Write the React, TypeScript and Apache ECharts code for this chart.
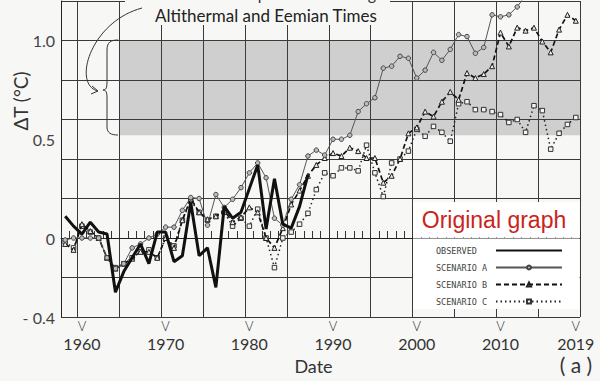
import React, { useEffect, useRef } from "react";
import * as echarts from "echarts";

// ---- data (annual means) ----
const observedStart = 1958;
const observed = [
  0.11, 0.06, 0.02, 0.08, 0.03, 0.02, -0.275, -0.17, -0.1, -0.03,
  -0.13, 0.03, 0.03, -0.12, -0.09, 0.18, -0.09, -0.05, -0.25, 0.16,
  0.1, 0.13, 0.25, 0.37, 0.045, 0.3, 0.07, 0.05, 0.16, 0.32,
];

const scenarioAStart = 1958;
const scenarioA = [
  -0.01, 0.0, 0.0, 0.0, 0.0, -0.1, -0.155, -0.13, -0.05, -0.03,
  0.0, 0.02, 0.055, 0.055, 0.14, 0.205, 0.2, 0.065, 0.22, 0.155,
  0.196, 0.255, 0.33, 0.38, 0.305, 0.1, 0.065, 0.196, 0.27, 0.415,
  0.445, 0.42, 0.5, 0.5, 0.52, 0.64, 0.68, 0.71, 0.86, 0.87,
  0.92, 0.91, 0.81, 0.85, 0.94, 0.9, 0.955, 1.03, 1.02, 0.935,
  0.965, 1.13, 1.12, 1.13, 1.17, 1.23,
];

const scenarioBStart = 1958;
const scenarioB = [
  -0.03, -0.06, 0.07, 0.035, 0.0, -0.1, -0.155, -0.13, -0.105, -0.07,
  -0.07, -0.1, 0.0, -0.05, 0.09, 0.2, 0.13, 0.095, 0.11, 0.14,
  0.08, 0.105, 0.155, 0.13, 0.0, -0.05, 0.05, 0.17, 0.24, 0.315,
  0.37, 0.405, 0.43, 0.415, 0.457, 0.44, 0.405, 0.405, 0.28, 0.315,
  0.4, 0.53, 0.56, 0.64, 0.615, 0.69, 0.74, 0.7, 0.835, 0.81,
  0.83, 0.87, 1.04, 0.97, 1.065, 1.05, 1.065, 0.995, 0.94, 1.055,
  1.13, 1.1,
];

const scenarioCStart = 1958;
const scenarioC = [
  -0.02, -0.05, 0.06, 0.03, 0.0, -0.1, -0.15, -0.13, -0.1, -0.07,
  -0.06, -0.1, 0.0, -0.04, 0.09, 0.19, 0.13, 0.09, 0.11, 0.13,
  0.06, 0.1, 0.06, 0.146, 0.0, -0.15, 0.0, 0.03, 0.07, 0.125,
  0.245, 0.33, 0.315, 0.355, 0.355, 0.34, 0.47, 0.33, 0.21, 0.38,
  0.4, 0.44, 0.55, 0.515, 0.565, 0.535, 0.49, 0.68, 0.69, 0.65,
  0.65, 0.64, 0.625, 0.585, 0.6, 0.535, 0.67, 0.645, 0.45, 0.53,
  0.575, 0.61,
];

const legendNames = ["OBSERVED", "SCENARIO A", "SCENARIO B", "SCENARIO C"];
const xTickYears = [1960, 1970, 1980, 1990, 2000, 2010, 2019];
const gridYears = [1960, 1965, 1970, 1975, 1980, 1985, 1990, 1995, 2000, 2005, 2010, 2015, 2020];
const yLabelValues = [-0.4, 0, 0.5, 1.0];
const shadedBand = { fromYear: 1965, toYear: 2020, low: 0.52, high: 1.0 };

const xMin = 1958;
const xMax = 2020;

const toPoints = (start: number, vals: number[]) =>
  vals.map((v, i) => [start + i + 0.5, v]);

const BG = "#f7f7f6";
const INK = "#222";
const FONT = "Lato";

const braceD =
  "M118 40 C111 40 107 42 107 50 L107 82 C107 88 106 90 103 90 C106 90 107 92 107 98 L107 127 C107 133 111 135 118 135";

let braceRegistered = false;

export default function App() {
  const ref = useRef<HTMLDivElement>(null);

  useEffect(() => {
    if (!ref.current) return;
    if (!braceRegistered) {
      echarts.graphic.registerShape("brace", echarts.graphic.extendPath(braceD, {}) as any);
      braceRegistered = true;
    }
    const chart = echarts.init(ref.current, undefined, { renderer: "svg" });

    const option: any = {
      animation: false,
      backgroundColor: BG,
      grid: { left: 61, right: 20, top: 1, bottom: 64 },
      legend: {
        data: legendNames.map((n, i) =>
          i === 0 ? { name: n, itemStyle: { opacity: 0 } } : { name: n }
        ),
        orient: "vertical",
        right: 32,
        top: 241,
        align: "right",
        itemWidth: 66,
        itemHeight: 5,
        itemGap: 8,
        formatter: "{n|{name}}",
        textStyle: {
          color: "#444",
          fontFamily: "DejaVu Sans Mono",
          fontSize: 8,
          rich: {
            n: { width: 55, align: "left", fontFamily: "DejaVu Sans Mono", fontSize: 8.5, lineHeight: 8, color: "#444" },
          },
        },
      },
      xAxis: [
        {
          type: "value",
          min: xMin,
          max: xMax,
          interval: 1,
          position: "bottom",
          axisLine: { show: true, lineStyle: { color: INK, width: 1 } },
          axisTick: { show: true, inside: true, length: 7, lineStyle: { color: "#333", width: 1 } },
          splitLine: { show: false },
          axisLabel: {
            show: true,
            customValues: xTickYears.map((y) => y + 0.5),
            formatter: (v: number) => `{v|V}\n{y|${Math.floor(v)}}`,
            margin: 2,
            rich: {
              v: { fontSize: 13, lineHeight: 16, fontFamily: FONT, color: "#333", fontWeight: 300, verticalAlign: "top" },
              y: { fontSize: 16, lineHeight: 17, fontFamily: FONT, color: "#333" },
            },
          },
          name: "Date",
          nameLocation: "middle",
          nameGap: 40,
          nameTextStyle: { fontSize: 18, fontFamily: FONT, color: "#333", padding: [0, 14, 0, 0] },
        },
        {
          type: "value",
          min: xMin,
          max: xMax,
          position: "bottom",
          axisLine: { show: false },
          axisTick: { show: false, customValues: gridYears },
          axisLabel: { show: false },
          splitLine: { show: true, lineStyle: { color: "#3a3a3a", width: 1 } },
        },
      ],
      yAxis: {
        type: "value",
        min: -0.4,
        max: 1.2,
        interval: 0.2,
        axisLine: { show: true, lineStyle: { color: INK, width: 1 } },
        axisTick: { show: false },
        splitLine: { show: true, lineStyle: { color: "#3a3a3a", width: 1 } },
        axisLabel: {
          customValues: yLabelValues,
          margin: 6,
          fontSize: 16,
          fontFamily: FONT,
          color: "#444",
          formatter: (v: number) => (v === 0 ? "0" : v < 0 ? "- " + Math.abs(v).toFixed(1) : v.toFixed(1)),
        },
      },
      series: [
        {
          name: "band",
          type: "line",
          data: [],
          silent: true,
          markArea: {
            silent: true,
            itemStyle: { color: "rgba(70,70,70,0.22)" },
            data: [
              [
                { xAxis: shadedBand.fromYear, yAxis: shadedBand.high },
                { xAxis: shadedBand.toYear, yAxis: shadedBand.low },
              ],
            ],
          },
        },
        {
          name: "SCENARIO C",
          type: "line",
          data: toPoints(scenarioCStart, scenarioC),
          symbol: "rect",
          symbolSize: 4.5,
          lineStyle: { color: "#222", width: 1.5, type: [1.5, 3] },
          itemStyle: { color: "#f4f4f4", borderColor: "#333", borderWidth: 1 },
          z: 3,
        },
        {
          name: "SCENARIO B",
          type: "line",
          data: toPoints(scenarioBStart, scenarioB),
          symbol: "triangle",
          symbolSize: 5,
          lineStyle: { color: "#111", width: 1.7, type: [5, 3] },
          itemStyle: { color: "#eee", borderColor: "#222", borderWidth: 1 },
          z: 4,
        },
        {
          name: "SCENARIO A",
          type: "line",
          data: toPoints(scenarioAStart, scenarioA),
          symbol: "circle",
          symbolSize: 4.5,
          lineStyle: { color: "#555", width: 1 },
          itemStyle: { color: "#bbb", borderColor: "#444", borderWidth: 1 },
          z: 5,
        },
        {
          name: "OBSERVED",
          type: "line",
          data: toPoints(observedStart, observed),
          symbol: "none",
          lineStyle: { color: "#111", width: 3 },
          itemStyle: { color: "#111" },
          z: 6,
        },
      ],
      graphic: [
        { type: "rect", z: 1, shape: { x: 125, y: 0, width: 265, height: 25 }, style: { fill: BG } },
        {
          type: "text", z: 1, x: 155, y: -7,
          style: { text: "Estimated Temperatures During", fontSize: 16, fontFamily: FONT, fill: "#333", verticalAlign: "middle" },
        },
        {
          type: "text", z: 1, x: 155, y: 15,
          style: { text: "Altithermal and Eemian Times", fontSize: 17, fontFamily: FONT, fill: "#222", verticalAlign: "middle" },
        },
        {
          type: "bezierCurve", z: 1,
          shape: { x1: 142, y1: 8, cpx1: 90, cpy1: 22, cpx2: 72, cpy2: 85, x2: 98, y2: 91 },
          style: { stroke: "#333", lineWidth: 1, fill: "none" },
        },
        {
          type: "polyline", z: 1,
          shape: { points: [[92, 86], [98, 91], [91, 94]] },
          style: { stroke: "#333", lineWidth: 1, fill: "none" },
        },
        { type: "brace", z: 1, x: 0, y: 0, style: { stroke: "#333", lineWidth: 1, fill: "none" } },
        {
          type: "text", z: 1, x: 20, y: 101, rotation: Math.PI / 2,
          style: { text: "ΔT (°C)", fontSize: 19, fontFamily: FONT, fill: "#333", align: "center", verticalAlign: "middle" },
        },
        {
          type: "text", z: 1, x: 576, y: 364,
          style: { text: "( a )", fontSize: 21, fontFamily: FONT, fill: "#333", align: "center", verticalAlign: "middle" },
        },
        { type: "rect", z: 1, shape: { x: 413, y: 202, width: 166.5, height: 35.5 }, style: { fill: "#ffffff" } },
        { type: "rect", z: 1, shape: { x: 413, y: 238.5, width: 166.5, height: 70.5 }, style: { fill: "#ffffff" } },
        {
          type: "text", z: 1, x: 494, y: 220,
          style: { text: "Original graph", fontSize: 23, fontFamily: "Liberation Sans", fill: "#c9251b", align: "center", verticalAlign: "middle" },
        },
      ],
    };

    chart.setOption(option);
    return () => chart.dispose();
  }, []);

  return (
    <div
      ref={ref}
      style={{ position: "fixed", left: 0, top: 0, width: 600, height: 381 }}
    />
  );
}
